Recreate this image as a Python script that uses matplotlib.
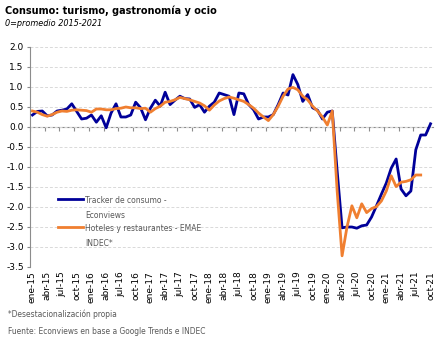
import numpy as np
import matplotlib.pyplot as plt
from matplotlib.ticker import MultipleLocator, FixedLocator
from matplotlib.legend_handler import HandlerLine2D

# meses ene-15 .. oct-21
meses = ["ene", "feb", "mar", "abr", "may", "jun", "jul", "ago", "sep", "oct", "nov", "dic"]
fechas = [f"{meses[m % 12]}-{15 + m // 12}" for m in range(82)]

tracker = [0.30, 0.39, 0.40, 0.28, 0.30, 0.40, 0.42, 0.45, 0.58, 0.39,
           0.20, 0.22, 0.30, 0.12, 0.28, -0.02, 0.35, 0.58, 0.25, 0.25,
           0.30, 0.62, 0.48, 0.18, 0.47, 0.67, 0.52, 0.87, 0.56, 0.67,
           0.77, 0.71, 0.70, 0.49, 0.56, 0.37, 0.52, 0.62, 0.85, 0.81,
           0.77, 0.31, 0.85, 0.83, 0.56, 0.43, 0.20, 0.25, 0.25, 0.31,
           0.56, 0.85, 0.80, 1.31, 1.06, 0.64, 0.81, 0.48, 0.42, 0.20,
           0.37, 0.40, -1.10, -2.52, -2.50, -2.50, -2.53, -2.47, -2.45, -2.25,
           -1.97, -1.68, -1.40, -1.03, -0.80, -1.55, -1.72, -1.60, -0.57, -0.20,
           -0.20, 0.08]

hoteles = [0.40, 0.37, 0.31, 0.27, 0.31, 0.37, 0.40, 0.39, 0.42, 0.43,
           0.42, 0.41, 0.37, 0.45, 0.45, 0.43, 0.43, 0.46, 0.47, 0.50,
           0.48, 0.48, 0.46, 0.47, 0.37, 0.46, 0.52, 0.62, 0.64, 0.68,
           0.74, 0.71, 0.68, 0.64, 0.60, 0.53, 0.42, 0.55, 0.65, 0.71,
           0.75, 0.72, 0.68, 0.64, 0.56, 0.47, 0.35, 0.25, 0.16, 0.31,
           0.52, 0.77, 0.95, 0.99, 0.93, 0.77, 0.68, 0.52, 0.40, 0.25,
           0.05, 0.40, -1.60, -3.22, -2.50, -1.97, -2.27, -1.92, -2.14, -2.04,
           -1.99, -1.85, -1.60, -1.22, -1.49, -1.38, -1.36, -1.32, -1.20, -1.20]

titulo = "Consumo: turismo, gastronomía y ocio"
subtitulo = "0=promedio 2015-2021"
nota = "*Desestacionalización propia"
fuente = "Fuente: Econviews en base a Google Trends e INDEC"

gris = "#8c8c8c"
texto = "#595959"


# linea de la leyenda a la altura del primer renglon
class HandlerArriba(HandlerLine2D):
    def create_artists(self, legend, orig_handle, xdescent, ydescent, width, height, fontsize, trans):
        arts = super().create_artists(legend, orig_handle, xdescent, ydescent, width, height, fontsize, trans)
        for a in arts:
            a.set_ydata(np.asarray(a.get_ydata()) + 7.0)
        return arts


fig = plt.figure(figsize=(4.43, 3.40), dpi=100)
ax = fig.add_axes([30 / 443, 1 - 267 / 340, 403 / 443, 220 / 340])

x1 = np.arange(len(tracker))
x2 = np.arange(len(hoteles))
l1, = ax.plot(x1, tracker, color="#000099", lw=2.0, label="Tracker de consumo -\nEconviews", zorder=3)
l2, = ax.plot(x2, hoteles, color="#F07F30", lw=2.0, label="Hoteles y restaurantes - EMAE\nINDEC*", zorder=4)

ax.set_xlim(-0.5, 81.5)
ax.set_ylim(-3.5, 2.0)
ax.yaxis.set_major_locator(MultipleLocator(0.5))
ax.set_yticklabels([f"{v:.1f}" for v in ax.get_yticks()])
ax.tick_params(axis="y", labelsize=6.5, length=2.5, color=gris, pad=2, labelcolor="black")
ax.grid(axis="y", color="#d9d9d9", ls=(0, (3, 2)), lw=0.7)

# etiquetas del eje x abajo, sin marcas
pos = list(range(0, 82, 3))
ax.set_xticks(pos)
ax.set_xticklabels([fechas[p] for p in pos], rotation=90, fontsize=6.5)
ax.tick_params(axis="x", length=0, pad=3)

for s in ["top", "right", "bottom"]:
    ax.spines[s].set_visible(False)
ax.spines["left"].set_color(gris)

# eje en cero con marcas entre categorias
sec = ax.secondary_xaxis(0, transform=ax.transData)
sec.xaxis.set_major_locator(FixedLocator(np.arange(-0.5, 82, 3)))
sec.tick_params(axis="x", length=3, color=gris, labelbottom=False)
sec.spines["bottom"].set_color(gris)

leg = ax.legend(loc="upper left", bbox_to_anchor=(51 / 443, 1 - 189 / 340),
                bbox_transform=fig.transFigure, frameon=False, fontsize=5.5,
                handlelength=3.3, handletextpad=0.25, labelspacing=0.49,
                labelcolor=texto,
                handler_map={l1: HandlerArriba(), l2: HandlerArriba()})
for t in leg.get_texts():
    t.set_linespacing(1.9)

fig.text(5 / 443, 1 - 11 / 340, titulo, fontsize=7.05, fontweight="bold", va="center")
fig.text(5 / 443, 1 - 23 / 340, subtitulo, fontsize=5.85, style="italic", va="center")
fig.text(8 / 443, 1 - 314 / 340, nota, fontsize=5.45, color=texto, va="center")
fig.text(8 / 443, 1 - 331 / 340, fuente, fontsize=5.45, color=texto, va="center")

fig.savefig("out.png", dpi=100)
